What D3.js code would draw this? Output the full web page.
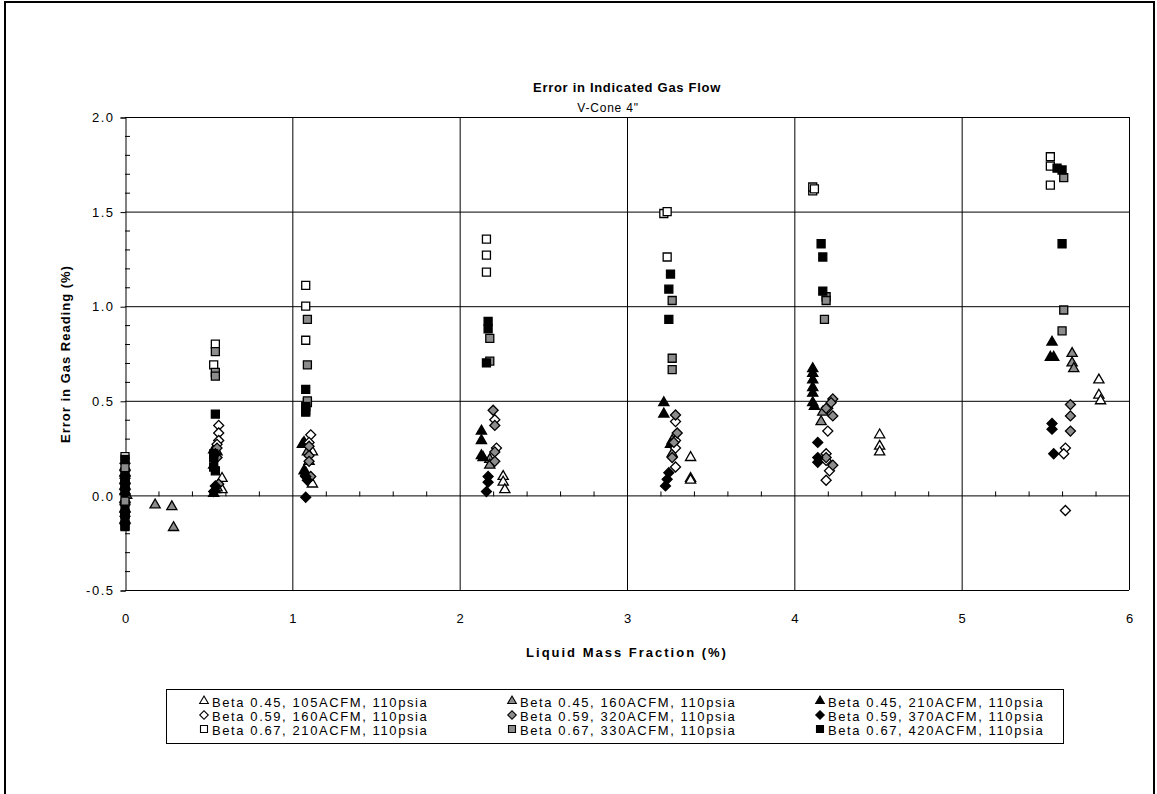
<!DOCTYPE html>
<html>
<head>
<meta charset="utf-8">
<script src="https://cdn.jsdelivr.net/npm/d3@7"></script>
<style>
  body { margin: 0; background: #fff; }
  svg { display: block; font-family: "Liberation Sans", Arial, sans-serif; }
</style>
</head>
<body>
<svg id="chart" width="1157" height="794"></svg>
<script>
// series names as in the legend
const seriesNames = [
  "Beta 0.45, 105ACFM, 110psia", "Beta 0.45, 160ACFM, 110psia", "Beta 0.45, 210ACFM, 110psia",
  "Beta 0.59, 160ACFM, 110psia", "Beta 0.59, 320ACFM, 110psia", "Beta 0.59, 370ACFM, 110psia",
  "Beta 0.67, 210ACFM, 110psia", "Beta 0.67, 330ACFM, 110psia", "Beta 0.67, 420ACFM, 110psia"
];
const seriesShapes = ["triangle", "triangle", "triangle", "diamond", "diamond", "diamond", "square", "square", "square"];
const seriesFills = ["#fff", "#8c8c8c", "#000", "#fff", "#8c8c8c", "#000", "#fff", "#8c8c8c", "#000"];

// [liquid mass fraction %, error %]
const beta45_105 = [[0,0.12],[0,0.05],[0,-0.02],[0.58,0.09],[0.56,0.05],[0.58,0.03],[1.12,0.23],[1.12,0.06],
  [2.26,0.10],[2.26,0.07],[2.27,0.03],[3.38,0.20],[3.38,0.09],[3.38,0.08],[4.51,0.32],[4.51,0.26],[4.51,0.23],
  [5.82,0.61],[5.82,0.53],[5.83,0.50]];
const beta45_160 = [[0.01,0.0],[0.18,-0.05],[0.28,-0.06],[0.29,-0.17],[0.55,0.23],[0.55,0.04],[1.09,0.23],[1.10,0.18],
  [2.18,0.19],[2.18,0.16],[3.27,0.29],[3.27,0.22],[4.17,0.44],[4.16,0.39],[5.66,0.75],[5.66,0.70],[5.67,0.67]];
const beta45_210 = [[0,0.15],[0,0.08],[0,0.02],[0,-0.07],[0,-0.13],[0.53,0.24],[0.53,0.16],[0.54,0.03],[0.53,0.01],
  [1.07,0.28],[1.06,0.27],[1.07,0.13],[1.08,0.12],[2.13,0.34],[2.13,0.29],[2.13,0.21],[2.14,0.20],
  [3.22,0.49],[3.22,0.43],[3.26,0.27],[4.11,0.67],[4.11,0.645],[4.11,0.61],[4.11,0.57],[4.11,0.54],[4.11,0.49],[4.12,0.47],
  [5.54,0.81],[5.53,0.73],[5.55,0.73]];
const beta59_160 = [[0,0.10],[0,0.03],[0,-0.05],[0.56,0.37],[0.56,0.33],[0.56,0.29],[0.55,0.27],[1.11,0.32],[1.10,0.28],
  [2.21,0.40],[2.22,0.25],[3.29,0.39],[3.29,0.29],[3.29,0.25],[3.29,0.15],
  [4.20,0.46],[4.20,0.34],[4.19,0.22],[4.19,0.185],[4.21,0.13],[4.19,0.08],[5.62,0.25],[5.61,0.22],[5.62,-0.08]];
const beta59_320 = [[0,0.13],[0,0.06],[0,-0.09],[0.55,0.25],[0.55,0.20],[0.56,0.06],[1.10,0.26],[1.10,0.21],[1.10,0.18],[1.11,0.10],
  [2.20,0.45],[2.21,0.37],[2.21,0.23],[2.21,0.18],[3.29,0.425],[3.30,0.33],[3.28,0.28],[3.27,0.20],
  [4.23,0.51],[4.22,0.49],[4.19,0.46],[4.23,0.42],[4.19,0.20],[4.23,0.16],[5.65,0.48],[5.65,0.42],[5.65,0.34]];
const beta59_370 = [[0,0.17],[0,0.09],[0,0.01],[0,-0.04],[0,-0.11],[0,-0.15],[0.54,0.22],[0.54,0.05],[0.53,0.02],
  [1.08,0.10],[1.09,0.08],[1.08,-0.01],[2.17,0.10],[2.17,0.07],[2.16,0.02],[3.25,0.12],[3.24,0.085],[3.23,0.05],
  [4.14,0.28],[4.14,0.20],[4.14,0.175],[5.54,0.38],[5.54,0.35],[5.55,0.22]];
const beta67_210 = [[0,0.205],[0,0.06],[0,-0.10],[0.54,0.80],[0.53,0.69],[1.08,1.11],[1.08,1.00],[1.08,0.82],[1.09,0.49],
  [2.16,1.355],[2.16,1.27],[2.16,1.18],[3.22,1.49],[3.24,1.50],[3.24,1.26],[4.11,1.61],[4.11,1.63],[4.12,1.62],
  [5.53,1.79],[5.53,1.74],[5.53,1.64]];
const beta67_330 = [[0,0.147],[0,-0.03],[0,-0.16],[0.54,0.76],[0.54,0.65],[0.54,0.63],[1.09,0.93],[1.09,0.69],[1.09,0.50],
  [2.18,0.83],[2.18,0.71],[3.27,1.03],[3.27,0.725],[3.27,0.665],[4.19,1.05],[4.19,1.03],[4.18,0.93],
  [5.61,1.68],[5.61,0.98],[5.60,0.87]];
const beta67_420 = [[0,0.19],[0,0.10],[0,0.06],[0,0.02],[0,-0.08],[0,-0.12],[0,-0.165],[0.54,0.43],[0.53,0.22],[0.53,0.20],
  [0.53,0.15],[0.54,0.13],[1.08,0.56],[1.08,0.47],[1.08,0.45],[1.08,0.44],[2.17,0.92],[2.17,0.88],[2.16,0.70],
  [3.26,1.17],[3.25,1.09],[3.25,0.93],[4.16,1.33],[4.17,1.26],[4.17,1.08],[5.57,1.73],[5.60,1.72],[5.60,1.33]];

const allSeries = [beta45_105, beta45_160, beta45_210, beta59_160, beta59_320, beta59_370, beta67_210, beta67_330, beta67_420];

const xTicks = [0, 1, 2, 3, 4, 5, 6];
const yTicks = [-0.5, 0.0, 0.5, 1.0, 1.5, 2.0];

const svg = d3.select("#chart");

// outer frame
svg.append("rect").attr("x", 5).attr("y", 2).attr("width", 1149).attr("height", 820)
  .attr("fill", "none").attr("stroke", "#000").attr("stroke-width", 2);

const x = d3.scaleLinear().domain([0, 6]).range([125, 1129]);
const y = d3.scaleLinear().domain([-0.5, 2]).range([590, 117]);

// gridlines
const grid = svg.append("g").attr("stroke", "#000").attr("stroke-width", 1);
grid.selectAll(".hg").data([0.5, 1.0, 1.5, 2.0, -0.5]).enter().append("line")
  .attr("x1", x(0)).attr("x2", x(6)).attr("y1", d => y(d) + 0.5).attr("y2", d => y(d) + 0.5);
grid.selectAll(".vg").data([1, 2, 3, 4, 5, 6]).enter().append("line")
  .attr("y1", y(2)).attr("y2", y(-0.5)).attr("x1", d => x(d) + 0.5).attr("x2", d => x(d) + 0.5);

// y axis (left)
const yAxis = d3.axisLeft(y).tickValues(yTicks).tickFormat(d3.format(".1f")).tickSize(5).tickPadding(6);
const gy = svg.append("g").attr("transform", `translate(${x(0) + 0.5},0.5)`).call(yAxis);
gy.select(".domain").attr("stroke", "#000");
gy.selectAll("text").attr("font-size", 13).attr("letter-spacing", "1.5px").attr("fill", "#000")
  .attr("font-family", "'Liberation Sans', Arial, sans-serif");
gy.selectAll(".tick text").text(d => d < 0 ? "-" + d3.format(".1f")(-d) : d3.format(".1f")(d));
// minor ticks, inside
svg.append("g").selectAll("line").data(d3.range(-0.5, 2.001, 0.1).filter(v => Math.abs(v * 2 - Math.round(v * 2)) > 0.01))
  .enter().append("line").attr("x1", x(0)).attr("x2", x(0) + 5)
  .attr("y1", d => y(d) + 0.5).attr("y2", d => y(d) + 0.5).attr("stroke", "#000");

// x axis line at y = 0 with minor ticks
svg.append("line").attr("x1", x(0)).attr("x2", x(6)).attr("y1", y(0) + 0.5).attr("y2", y(0) + 0.5).attr("stroke", "#000");
svg.append("g").selectAll("line").data(d3.range(0.2, 6, 0.2).filter(v => Math.abs(v - Math.round(v)) > 0.01))
  .enter().append("line").attr("x1", d => x(d) + 0.5).attr("x2", d => x(d) + 0.5)
  .attr("y1", y(0) - 4).attr("y2", y(0) + 1).attr("stroke", "#000");

// x tick labels at the bottom
const xAxis = d3.axisBottom(x).tickValues(xTicks).tickFormat(d3.format("d")).tickSize(0).tickPadding(24);
const gx = svg.append("g").attr("transform", `translate(0,${y(-0.5)})`).call(xAxis);
gx.select(".domain").remove();
gx.selectAll("text").attr("font-size", 13).attr("fill", "#000").attr("font-family", "'Liberation Sans', Arial, sans-serif");

// titles
svg.append("text").attr("x", 627).attr("y", 92).attr("text-anchor", "middle")
  .attr("font-size", 13).attr("font-weight", "bold").attr("letter-spacing", "0.7px").text("Error in Indicated Gas Flow");
svg.append("text").attr("x", 608).attr("y", 112).attr("text-anchor", "middle")
  .attr("font-size", 12).attr("letter-spacing", "0.8px").text("V-Cone  4\"");
svg.append("text").attr("x", 627).attr("y", 657).attr("text-anchor", "middle")
  .attr("font-size", 13).attr("font-weight", "bold").attr("letter-spacing", "2px").text("Liquid Mass Fraction (%)");
svg.append("text").attr("transform", "translate(70,354) rotate(-90)").attr("text-anchor", "middle")
  .attr("font-size", 13).attr("font-weight", "bold").attr("letter-spacing", "1px").text("Error in Gas Reading (%)");

// marker path generator
function markerPath(shape, s) {
  if (shape === "square") return d3.symbol(d3.symbolSquare, s * s)();
  if (shape === "diamond") return d3.symbol(d3.symbolSquare, s * s * 0.5)();
  return d3.symbol(d3.symbolTriangle, s * s * 0.45)();
}
function markerRot(shape) { return shape === "diamond" ? " rotate(45)" : ""; }

// points
allSeries.forEach((data, i) => {
  const shape = seriesShapes[i];
  svg.append("g").selectAll("path").data(data).enter().append("path")
    .attr("d", markerPath(shape, shape === "square" ? 8 : 10))
    .attr("transform", d => `translate(${x(d[0])},${y(d[1])})` + markerRot(shape))
    .attr("fill", seriesFills[i]).attr("stroke", "#000").attr("stroke-width", 1.3);
});

// legend
const legend = svg.append("g");
legend.append("rect").attr("x", 166.5).attr("y", 689.5).attr("width", 897).attr("height", 54)
  .attr("fill", "#fff").attr("stroke", "#000");
const colX = [204, 512, 820];
seriesNames.forEach((name, i) => {
  const cx = colX[i % 3], cy = 702 + Math.floor(i / 3) * 14;
  const shape = seriesShapes[i];
  legend.append("path").attr("d", markerPath(shape, shape === "square" ? 7 : 8.5))
    .attr("transform", `translate(${cx},${cy - 1})` + markerRot(shape))
    .attr("fill", seriesFills[i]).attr("stroke", "#000").attr("stroke-width", 1.1);
  legend.append("text").attr("x", cx + 8).attr("y", cy + 5).attr("font-size", 13)
    .attr("letter-spacing", "1.6px").text(name);
});
</script>
</body>
</html>
